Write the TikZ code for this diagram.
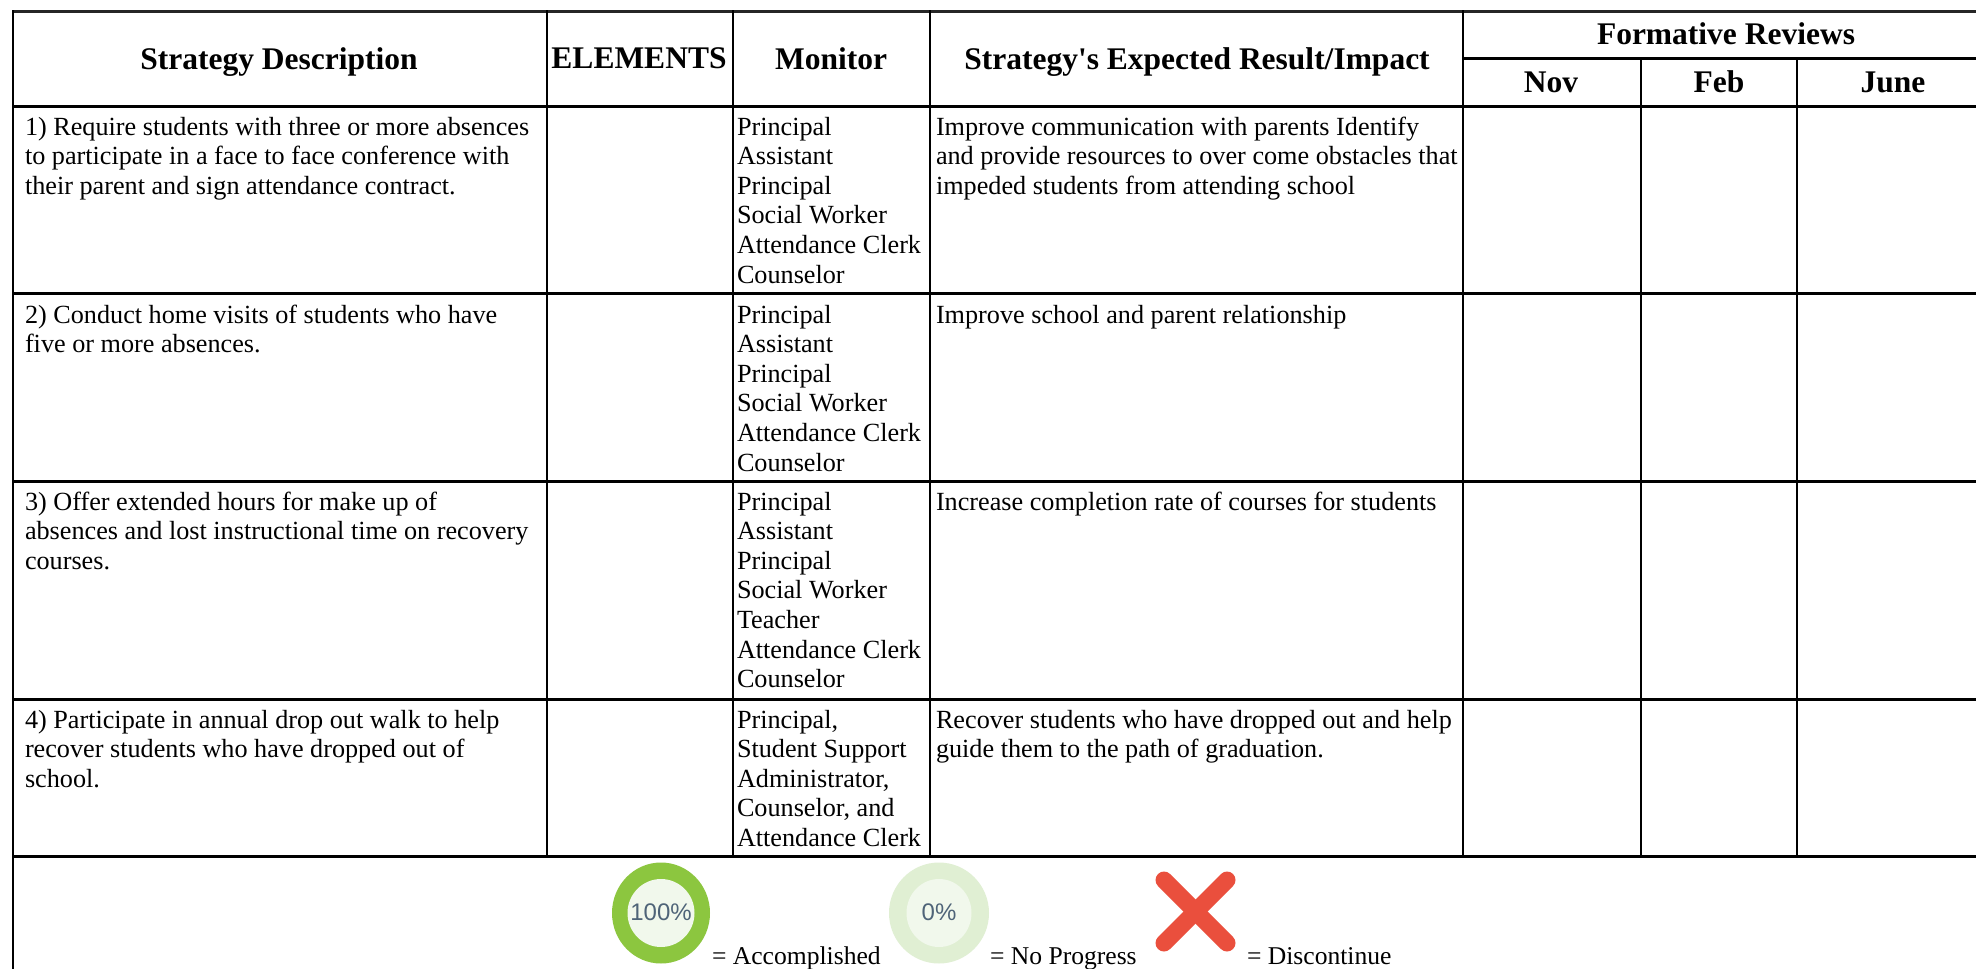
\documentclass[tikz,border=0pt]{standalone}
\usepackage{fontspec}
\setmainfont{Liberation Serif}
\newfontfamily\iconfont{Liberation Sans}
\newcommand{\bodysize}{\fontsize{26.2}{29.6}\selectfont}
\newcommand{\legendsize}{\fontsize{25.6}{29.6}\selectfont}
\newcommand{\headsize}{\fontsize{31.5}{34}\selectfont\bfseries}
\newcommand{\cellrows}[1]{\begin{tabular}[t]{@{}l@{}}#1\end{tabular}}
\definecolor{ringgreen}{HTML}{8CC63F}
\definecolor{ringpale}{HTML}{E0EFD3}
\definecolor{ringinner}{HTML}{F1F8EC}
\definecolor{iconink}{HTML}{4F6478}
\definecolor{crossred}{HTML}{EA4F3D}
\tikzset{
  cell/.style={anchor=base west,inner sep=0pt,outer sep=0pt,font=\bodysize,text=black},
  head/.style={anchor=base,inner sep=0pt,outer sep=0pt,font=\headsize,text=black},
  legend/.style={anchor=base west,inner sep=0pt,outer sep=0pt,font=\legendsize,text=black},
  icontext/.style={inner sep=0pt,outer sep=0pt,font=\iconfont\fontsize{24}{24}\selectfont,text=iconink},
  vline/.style={draw=black,line width=2pt},
  hline/.style={draw=black,line width=3pt},
}
\begin{document}
\begin{tikzpicture}[x=1pt,y=-1pt]
\useasboundingbox (0,0) rectangle (1976,969);
\fill[white] (0,0) rectangle (1976,969);
% grid
\draw[hline,draw=black!85] (12,11) -- (1976,11);
\draw[hline] (12,106) -- (1976,106);
\draw[hline] (12,293.5) -- (1976,293.5);
\draw[hline] (12,481) -- (1976,481);
\draw[hline] (12,699) -- (1976,699);
\draw[hline] (12,856.5) -- (1976,856.5);
\draw[hline] (1463,58) -- (1976,58);
\draw[vline] (13,10) -- (13,969);
\foreach \cx in {547,733,930,1463}{\draw[vline] (\cx,10) -- (\cx,856);}
\foreach \cx in {1641,1797}{\draw[vline] (\cx,58) -- (\cx,856);}
% header
\node[head] (hStrategy) at (279,69.5) {Strategy Description};
\node[head] (hElements) at (639,68.5) {ELEMENTS};
\node[head] (hMonitor) at (831,69.5) {Monitor};
\node[head] (hImpact) at (1197,69.5) {Strategy\textquotesingle s Expected Result/Impact};
\node[head] (hFormative) at (1726,44.5) {Formative Reviews};
\node[head] (hNov) at (1551,92.5) {Nov};
\node[head] (hFeb) at (1719,92.5) {Feb};
\node[head] (hJune) at (1893,92.5) {June};
% row 1
\node[cell] (s1) at (25,135) {\cellrows{1) Require students with three or more absences\\to participate in a face to face conference with\\their parent and sign attendance contract.}};
\node[cell] (m1) at (737,135) {\cellrows{Principal\\Assistant\\Principal\\Social Worker\\Attendance Clerk\\Counselor}};
\node[cell] (r1) at (936,135) {\cellrows{Improve communication with parents Identify\\and provide resources to over come obstacles that\\impeded students from attending school}};
% row 2
\node[cell] (s2) at (25,323) {\cellrows{2) Conduct home visits of students who have\\five or more absences.}};
\node[cell] (m2) at (737,323) {\cellrows{Principal\\Assistant\\Principal\\Social Worker\\Attendance Clerk\\Counselor}};
\node[cell] (r2) at (936,323) {\cellrows{Improve school and parent relationship}};
% row 3
\node[cell] (s3) at (25,510) {\cellrows{3) Offer extended hours for make up of\\absences and lost instructional time on recovery\\courses.}};
\node[cell] (m3) at (737,510) {\cellrows{Principal\\Assistant\\Principal\\Social Worker\\Teacher\\Attendance Clerk\\Counselor}};
\node[cell] (r3) at (936,510) {\cellrows{Increase completion rate of courses for students}};
% row 4
\node[cell] (s4) at (25,728) {\cellrows{4) Participate in annual drop out walk to help\\recover students who have dropped out of\\school.}};
\node[cell] (m4) at (737,728) {\cellrows{Principal,\\Student Support\\Administrator,\\Counselor, and\\Attendance Clerk}};
\node[cell] (r4) at (936,728) {\cellrows{Recover students who have dropped out and help\\guide them to the path of graduation.}};
% legend
\fill[ringgreen] (661,913) ellipse [x radius=49,y radius=50.5];
\fill[ringinner] (661,913) ellipse [x radius=33.5,y radius=34];
\node[icontext] (iFull) at (661,912) {100\%};
\node[legend] (lFull) at (712,964) {= Accomplished};
\fill[ringpale] (939,913) ellipse [x radius=50,y radius=50.5];
\fill[ringinner] (939,913) ellipse [x radius=32.5,y radius=34];
\node[icontext] (iNone) at (939,912) {0\%};
\node[legend] (lNone) at (990,964) {= No Progress};
\draw[crossred,line width=17pt,line cap=round] (1164,880) -- (1227,943);
\draw[crossred,line width=17pt,line cap=round] (1227,880) -- (1164,943);
\node[legend] (lCross) at (1247,964) {= Discontinue};
\end{tikzpicture}
\end{document}
